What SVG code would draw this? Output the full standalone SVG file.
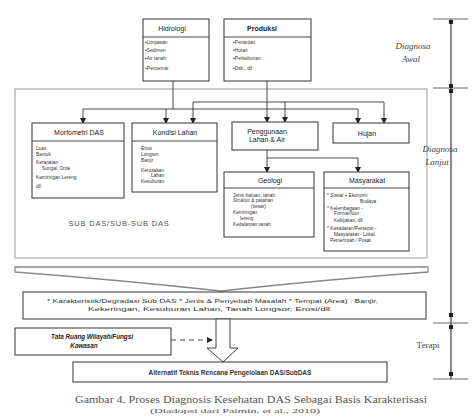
<svg xmlns="http://www.w3.org/2000/svg" width="472" height="419" viewBox="0 0 472 419">
<defs>
<style>
.box{fill:#fff;stroke:#333;stroke-width:1}
.hd{font-family:"Liberation Sans",Arial,sans-serif;font-size:7px;fill:#222;text-anchor:middle}
.it{font-family:"Liberation Sans",Arial,sans-serif;font-size:4.8px;fill:#333}
.ln{fill:none;stroke:#333;stroke-width:0.9}
.side{font-family:"Liberation Serif","Times New Roman",serif;font-size:9px;fill:#444;text-anchor:middle}
.cap{font-family:"Liberation Serif","Times New Roman",serif;fill:#555;text-anchor:middle}
</style>
<marker id="ar2" markerWidth="6" markerHeight="6" refX="5" refY="3" orient="auto" markerUnits="userSpaceOnUse">
<path d="M0,0 L6,3 L0,6 Z" fill="#222"/>
</marker>
</defs>
<rect width="472" height="419" fill="#fff"/>

<rect id="frame" x="15" y="89" width="412" height="169" fill="#fff" stroke="#999" stroke-width="1"/>

<g id="connectors">
<path class="ln" d="M173,81 V109"/>
<path class="ln" d="M83,109 H358"/>
<path class="ln" d="M83,109 V123" marker-end="url(#ar2)"/>
<path class="ln" d="M166,109 V123" marker-end="url(#ar2)"/>
<path class="ln" d="M358,109 V123" marker-end="url(#ar2)"/>
<path class="ln" d="M267,81 V122" marker-end="url(#ar2)"/>
<path class="ln" d="M193,102 H384"/>
<path class="ln" d="M193,102 V123" marker-end="url(#ar2)"/>
<path class="ln" d="M285,102 V122" marker-end="url(#ar2)"/>
<path class="ln" d="M384,102 V123" marker-end="url(#ar2)"/>
<path class="ln" d="M267,150 V172" marker-end="url(#ar2)"/>
<path class="ln" d="M267,158 H358 V172" marker-end="url(#ar2)"/>
<path class="ln" d="M171,340 H212" stroke-dasharray="5,4" marker-end="url(#ar2)"/>
</g>

<g id="hidrologi">
<rect class="box" x="143" y="19" width="66" height="62"/>
<line class="ln" x1="143" y1="37" x2="209" y2="37"/>
<text class="hd" x="172" y="31">Hidrologi</text>
<text class="it" x="145" y="44">•Limpasan</text>
<text class="it" x="145" y="52">•Sedimen</text>
<text class="it" x="145" y="60">•Air tanah</text>
<text class="it" x="145" y="70">•Pencemar</text>
</g>

<g id="produksi">
<rect class="box" x="224" y="19" width="87" height="62"/>
<line class="ln" x1="224" y1="37" x2="311" y2="37"/>
<text class="hd" x="262" y="31" font-weight="bold">Produksi</text>
<text class="it" x="233" y="44">•Pertanian</text>
<text class="it" x="233" y="52">•Hutan</text>
<text class="it" x="233" y="60">•Perkebunan</text>
<text class="it" x="233" y="70">•Dsb., dll</text>
</g>

<g id="morfometri">
<rect class="box" x="32" y="123" width="92" height="75"/>
<line class="ln" x1="32" y1="141" x2="124" y2="141"/>
<text class="hd" x="79" y="135">Morfometri DAS</text>
<text class="it" x="36" y="150">Luas</text>
<text class="it" x="36" y="156">Bentuk</text>
<text class="it" x="36" y="164">Kerapatan</text>
<text class="it" x="42" y="170">Sungai, Orde</text>
<text class="it" x="36" y="179">Kemiringan Lereng</text>
<text class="it" x="36" y="188">dll</text>
</g>

<g id="kondisi-lahan">
<rect class="box" x="132" y="123" width="85" height="69"/>
<line class="ln" x1="132" y1="141" x2="217" y2="141"/>
<text class="hd" x="175" y="135">Kondisi Lahan</text>
<text class="it" x="141" y="150">Erosi</text>
<text class="it" x="141" y="156">Longsor</text>
<text class="it" x="141" y="162">Banjir</text>
<text class="it" x="141" y="172">Kerusakan</text>
<text class="it" x="151" y="177">Lahan</text>
<text class="it" x="141" y="183">Kesuburan</text>
</g>

<g id="penggunaan">
<rect class="box" x="232" y="122" width="86" height="28"/>
<text class="hd" x="267" y="134">Penggunaan</text>
<text class="hd" x="267" y="142">Lahan &amp; Air</text>
</g>

<g id="hujan">
<rect class="box" x="333" y="123" width="76" height="20"/>
<text class="hd" x="367" y="136">Hujan</text>
</g>

<g id="geologi">
<rect class="box" x="224" y="172" width="90" height="65"/>
<line class="ln" x1="224" y1="188" x2="314" y2="188"/>
<text class="hd" x="270" y="183">Geologi</text>
<text class="it" x="233" y="197">Jenis batuan, tanah</text>
<text class="it" x="233" y="202">Struktur &amp; patahan</text>
<text class="it" x="251" y="208">(sesar)</text>
<text class="it" x="233" y="214">Kemiringan</text>
<text class="it" x="240" y="220">lereng</text>
<text class="it" x="233" y="226">Kedalaman tanah</text>
</g>

<g id="masyarakat">
<rect class="box" x="324" y="172" width="85" height="79"/>
<line class="ln" x1="324" y1="188" x2="409" y2="188"/>
<text class="hd" x="367" y="183">Masyarakat</text>
<text class="it" x="327" y="197">* Sosial + Ekonomi</text>
<text class="it" x="360" y="203">Budaya</text>
<text class="it" x="327" y="210">* Kelembagaan -</text>
<text class="it" x="334" y="215">Formal/Non</text>
<text class="it" x="334" y="222">Kebijakan, dll</text>
<text class="it" x="327" y="230">* Kesadaran/Persepsi -</text>
<text class="it" x="334" y="236">Masyarakat - Lokal,</text>
<text class="it" x="330" y="242">Pemerintah / Pusat</text>
</g>

<text x="119" y="226" font-family="Liberation Sans,Arial,sans-serif" font-size="7.5" fill="#555" text-anchor="middle" letter-spacing="0.8">SUB DAS/SUB-SUB DAS</text>

<path id="funnel" d="M15,267 H428 V272 Q320,280 221,291 Q120,280 15,272 Z" fill="#fff" stroke="#888" stroke-width="1.3"/>

<g id="ringkasan">
<rect class="box" x="23" y="292" width="403" height="27"/>
<text class="it" x="47" y="303" font-size="5.4" textLength="331" lengthAdjust="spacingAndGlyphs">* Karakteristik/Degradasi  Sub DAS   * Jenis &amp; Penyebab  Masalah   * Tempat (Area) : Banjir,</text>
<text class="it" x="88" y="311" font-size="5.4" textLength="242" lengthAdjust="spacingAndGlyphs">Kekeringan, Kesuburan Lahan,  Tanah Longsor,  Erosi/dll</text>
</g>

<path id="hollow-arrow" d="M216,319 H230 V348 H238 L223,362 L207,348 H216 Z" fill="#fff" stroke="#444" stroke-width="1"/>

<g id="tata-ruang">
<rect class="box" x="15" y="328" width="156" height="27"/>
<text x="92" y="339" font-family="Liberation Sans,Arial,sans-serif" font-size="6.3" font-weight="bold" font-style="italic" fill="#222" text-anchor="middle">Tata Ruang Wilayah/Fungsi</text>
<text x="84" y="348" font-family="Liberation Sans,Arial,sans-serif" font-size="6.3" font-weight="bold" font-style="italic" fill="#222" text-anchor="middle">Kawasan</text>
</g>

<g id="alternatif">
<rect class="box" x="73" y="362" width="314" height="20"/>
<text x="230" y="375" font-family="Liberation Sans,Arial,sans-serif" font-size="6.5" font-weight="bold" fill="#333" text-anchor="middle">Alternatif Teknis Rencana Pengelolaan DAS/SubDAS</text>
</g>

<text class="cap" x="251" y="403" font-size="10.5" textLength="352" lengthAdjust="spacingAndGlyphs">Gambar 4. Proses Diagnosis  Kesehatan  DAS Sebagai Basis Karakterisasi</text>
<text class="cap" x="235" y="413" font-size="7" textLength="170" lengthAdjust="spacingAndGlyphs">(Diadopsi dari Paimin, et al., 2010)</text>

<g id="timeline">
<line x1="451" y1="19" x2="451" y2="379" stroke="#888" stroke-width="2"/>
<line x1="433" y1="19" x2="468" y2="19" stroke="#666" stroke-width="1"/>
<line x1="433" y1="88" x2="468" y2="88" stroke="#666" stroke-width="1"/>
<line x1="433" y1="323" x2="468" y2="323" stroke="#666" stroke-width="1"/>
<line x1="433" y1="379" x2="468" y2="379" stroke="#666" stroke-width="1"/>
<rect x="449" y="20" width="4" height="4" fill="#222"/>
<rect x="449" y="84" width="4" height="4" fill="#222"/>
<rect x="449" y="89" width="4" height="4" fill="#222"/>
<rect x="449" y="313" width="4" height="4" fill="#222"/>
<rect x="449" y="325" width="4" height="4" fill="#222"/>
<rect x="449" y="372" width="4" height="4" fill="#222"/>
<text class="side" x="413" y="49" font-style="italic">Diagnosa</text>
<text class="side" x="411" y="62" font-style="italic">Awal</text>
<text class="side" x="440" y="152" font-style="italic">Diagnosa</text>
<text class="side" x="437" y="165" font-style="italic">Lanjut</text>
<text class="side" x="428" y="348" font-size="7.5">Terapi</text>
</g>
</svg>
